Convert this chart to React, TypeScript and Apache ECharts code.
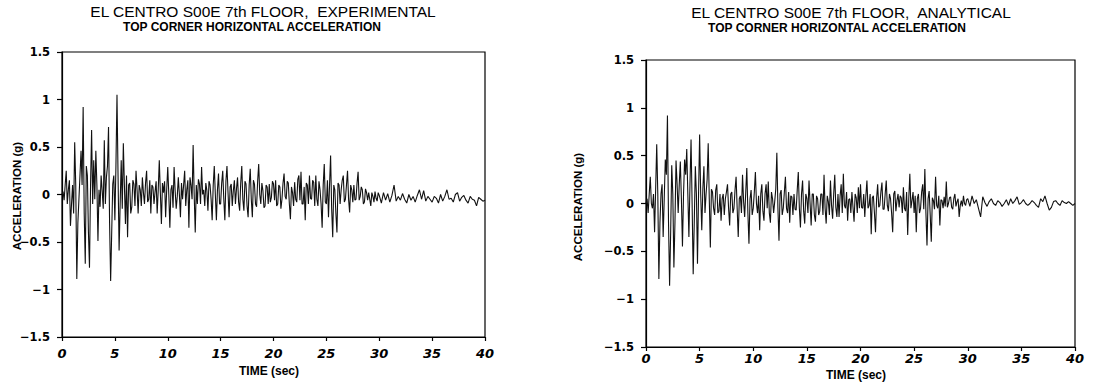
import React, { useEffect, useRef } from "react";
import * as echarts from "echarts";

// the records are digitised at 0.1 s up to 30 s, then at 0.2 s up to 40 s
const STEP_A = 0.1; // s, for t = 0 .. 29.9
const START_B = 30; // s
const STEP_B = 0.2; // s, for t = 30 .. 40

// EL CENTRO S00E 7th floor, experimental, top corner horizontal acceleration (g)
const expAccelA: number[] = [
  0.0, 0.03, -0.06, 0.1, 0.25, -0.1, 0.05, 0.15, -0.33, -0.1,
  0.1, -0.2, 0.55, 0.1, -0.89, -0.3, -0.05, 0.2, 0.46, 0.1,
  0.92, -0.2, -0.73, 0.3, 0.2, -0.4, -0.77, 0.1, 0.68, -0.1,
  0.36, -0.05, 0.46, 0.1, -0.49, 0.05, -0.13, 0.2, 0.04, -0.15,
  0.57, -0.1, 0.18, 0.3, 0.71, -0.3, -0.91, -0.4, 0.11, 0.2,
  -0.27, 0.3, 1.05, 0.2, -0.59, -0.1, 0.36, -0.15, 0.54, 0.1,
  -0.31, 0.2, -0.45, 0.1, 0.12, -0.2, -0.13, 0.15, 0.11, -0.12,
  0.25, 0.05, -0.2, 0.1, 0.05, -0.12, 0.18, 0.02, -0.1, 0.12,
  0.25, -0.08, -0.05, 0.15, -0.2, 0.1, 0.08, -0.1, 0.03, 0.14,
  -0.2, 0.05, 0.36, 0.02, -0.31, 0.12, 0.02, 0.14, -0.24, 0.05,
  0.29, 0.0, -0.35, 0.05, 0.1, -0.14, 0.29, 0.04, -0.15, -0.02,
  0.18, 0.0, -0.24, 0.12, -0.05, 0.1, 0.25, -0.12, 0.05, 0.15,
  -0.35, 0.18, 0.1, -0.05, 0.52, 0.0, -0.4, 0.1, -0.1, 0.16,
  0.11, -0.1, 0.29, 0.0, 0.05, -0.12, 0.12, 0.04, -0.17, 0.14,
  0.1, -0.05, -0.27, 0.1, 0.3, 0.0, -0.27, 0.05, 0.22, -0.1,
  -0.1, 0.12, 0.25, -0.05, -0.27, 0.14, 0.3, 0.02, -0.24, 0.08,
  0.11, -0.12, 0.04, 0.15, -0.1, 0.06, 0.18, -0.08, -0.17, 0.12,
  0.3, -0.05, -0.17, 0.14, 0.11, -0.12, -0.24, 0.1, 0.27, -0.05,
  -0.24, 0.15, 0.11, -0.1, -0.13, 0.14, 0.32, 0.0, -0.1, 0.12,
  0.04, -0.14, -0.12, 0.1, 0.08, -0.1, 0.11, -0.08, -0.03, 0.14,
  0.11, -0.06, 0.15, -0.12, -0.1, 0.1, 0.08, -0.15, -0.05, 0.12,
  0.22, -0.02, -0.05, 0.14, 0.12, -0.1, -0.26, 0.08, 0.02, -0.12,
  0.13, -0.05, -0.08, 0.16, 0.2, -0.06, 0.24, -0.1, -0.1, 0.08,
  -0.27, 0.12, 0.1, -0.1, 0.2, -0.04, -0.05, 0.15, 0.13, -0.12,
  0.2, -0.05, -0.12, 0.14, 0.05, -0.1, -0.35, 0.1, 0.32, -0.08,
  -0.1, 0.15, -0.24, 0.1, 0.41, -0.15, -0.45, 0.1, 0.05, -0.2,
  -0.4, 0.12, 0.1, -0.1, 0.05, 0.15, 0.2, -0.08, -0.05, 0.1,
  0.25, -0.05, -0.19, 0.1, 0.05, -0.08, 0.1, -0.06, -0.05, 0.12,
  0.24, -0.06, -0.02, 0.08, 0.05, -0.1, -0.08, 0.06, 0.02, -0.06,
  0.02, -0.05, -0.12, 0.02, -0.02, -0.08, 0.03, -0.04, -0.07, 0.02,
];
const expAccelB: number[] = [
  -0.01, -0.09, 0.02, -0.06, 0.01,
  -0.08, -0.01, 0.1, -0.07, -0.02,
  -0.06, 0.01, -0.05, -0.09, 0.0,
  -0.06, -0.02, -0.08, -0.01, 0.05,
  -0.05, 0.04, -0.07, -0.02, -0.05,
  -0.08, -0.02, -0.04, -0.09, 0.0,
  -0.07, -0.02, 0.05, -0.05, -0.04,
  -0.08, 0.0, 0.02, -0.07, -0.03,
  -0.01, -0.06, -0.09, -0.02, -0.05,
  -0.06, -0.12, -0.03, -0.05, -0.07,
  -0.06,
];

// EL CENTRO S00E 7th floor, analytical, top corner horizontal acceleration (g)
const anaAccelA: number[] = [
  0.0, 0.05, -0.1, 0.1, 0.28, 0.0, -0.05, 0.1, -0.3, 0.15,
  0.62, 0.1, -0.79, -0.2, 0.1, 0.2, -0.35, 0.05, 0.46, 0.3,
  0.92, -0.2, -0.86, -0.3, 0.4, 0.1, -0.67, -0.2, 0.45, 0.2,
  -0.1, 0.2, 0.44, 0.05, -0.45, 0.1, 0.46, 0.3, 0.57, 0.1,
  -0.35, 0.2, 0.67, 0.0, -0.74, -0.2, 0.39, 0.1, -0.63, 0.1,
  0.72, 0.1, -0.28, 0.15, 0.39, -0.1, 0.1, 0.25, 0.63, 0.05,
  -0.46, 0.15, 0.12, -0.05, -0.12, 0.14, 0.2, -0.1, -0.08, 0.1,
  -0.18, 0.05, 0.1, -0.12, 0.05, 0.12, 0.2, -0.05, -0.23, 0.1,
  0.12, -0.1, -0.05, 0.14, 0.28, -0.05, -0.35, 0.05, 0.08, -0.1,
  0.3, 0.02, -0.14, 0.12, 0.37, -0.1, -0.42, 0.05, 0.14, -0.12,
  -0.05, 0.12, 0.33, 0.0, -0.1, 0.08, -0.28, 0.1, 0.2, -0.08,
  -0.18, 0.1, 0.2, -0.05, 0.23, -0.1, -0.2, 0.12, 0.05, -0.1,
  0.02, 0.15, 0.53, -0.05, -0.39, 0.1, 0.14, -0.12, -0.05, 0.12,
  0.28, -0.05, -0.1, 0.12, -0.2, 0.08, 0.07, -0.12, 0.1, -0.06,
  -0.07, 0.14, 0.33, -0.05, -0.25, 0.1, 0.24, -0.08, -0.21, 0.1,
  0.05, -0.1, 0.24, 0.0, -0.23, 0.1, 0.1, -0.12, -0.19, 0.08,
  0.05, -0.12, -0.08, 0.1, 0.1, -0.12, 0.3, -0.05, -0.21, 0.08,
  0.02, -0.12, 0.24, -0.02, -0.16, 0.1, 0.3, -0.04, -0.14, 0.1,
  -0.14, 0.08, 0.2, -0.1, 0.31, -0.02, -0.05, 0.12, -0.18, 0.04,
  0.05, -0.1, 0.12, -0.04, -0.19, 0.1, 0.06, -0.1, 0.17, -0.05,
  0.2, -0.04, -0.05, 0.1, -0.14, 0.08, 0.24, -0.05, -0.02, 0.1,
  -0.32, 0.06, 0.08, -0.1, -0.3, 0.05, 0.2, -0.04, -0.02, 0.12,
  0.22, -0.06, -0.06, 0.1, 0.24, -0.02, -0.08, 0.1, 0.05, -0.1,
  -0.3, 0.1, 0.13, -0.08, 0.03, 0.1, -0.04, 0.08, 0.06, -0.1,
  0.17, -0.05, -0.08, 0.12, -0.33, 0.05, 0.31, -0.05, 0.03, 0.12,
  -0.1, 0.08, -0.3, 0.05, 0.1, -0.1, -0.05, 0.12, 0.2, -0.06,
  0.36, -0.1, -0.44, 0.05, 0.13, -0.12, -0.4, 0.06, 0.03, -0.06,
  0.28, -0.02, -0.05, 0.08, -0.23, 0.04, 0.03, -0.05, 0.07, -0.03,
  0.23, -0.04, 0.0, 0.06, 0.07, -0.04, -0.06, 0.05, 0.1, -0.03,
  0.02, 0.05, -0.14, -0.02, 0.03, -0.03, 0.08, 0.0, -0.02, 0.04,
];
const anaAccelB: number[] = [
  0.05, -0.03, 0.08, 0.0, 0.04,
  -0.05, -0.14, 0.07, 0.01, -0.03,
  0.02, 0.05, 0.0, -0.02, 0.03,
  0.01, -0.03, 0.0, 0.04, -0.02,
  0.05, 0.0, 0.03, 0.07, -0.01,
  0.01, 0.04, 0.0, -0.02, 0.0,
  0.03, 0.01, -0.02, -0.04, 0.05,
  0.02, 0.08, 0.0, -0.07, -0.04,
  0.02, 0.03, 0.0, -0.02, 0.03,
  0.01, 0.0, 0.02, 0.0, -0.02,
  0.0,
];

const titleMain = ["EL CENTRO S00E 7th FLOOR,  EXPERIMENTAL", "EL CENTRO S00E 7th FLOOR,  ANALYTICAL"];
const titleSub = "TOP CORNER HORIZONTAL ACCELERATION";
const xName = "TIME (sec)";
const yName = "ACCELERATION (g)";

const TITLE_FONT = "'Liberation Sans', Arial, sans-serif";
const TICK_FONT = "'DejaVu Sans', sans-serif";

const toPairs = (a: number[], b: number[]) => [
  ...a.map((v, i) => [i * STEP_A, v]),
  ...b.map((v, i) => [START_B + i * STEP_B, v]),
];

export default function App() {
  const ref = useRef<HTMLDivElement>(null);

  useEffect(() => {
    if (!ref.current) return;
    const chart = echarts.init(ref.current, null, { renderer: "svg" });

    const grids = [
      { left: 62, top: 52, width: 423, height: 285 },
      { left: 646, top: 60, width: 429, height: 287 },
    ];
    const xLabelMargin = [10, 5];

    const axisLine = { show: true, onZero: false, lineStyle: { color: "#000", width: 1.2 } };
    const tickStyle = { color: "#000", width: 1.2 };

    const xAxes = grids.map((_, i) => ({
      type: "value",
      gridIndex: i,
      min: 0,
      max: 40,
      interval: 5,
      axisLine,
      axisTick: { show: true, inside: false, length: 4, lineStyle: tickStyle },
      splitLine: { show: false },
      axisLabel: {
        color: "#000",
        fontFamily: TICK_FONT,
        fontWeight: "bold",
        fontStyle: "italic",
        fontSize: 13,
        margin: xLabelMargin[i],
      },
    }));

    const yAxes = grids.map((_, i) => ({
      type: "value",
      gridIndex: i,
      min: -1.5,
      max: 1.5,
      interval: 0.5,
      axisLine,
      axisTick: { show: true, inside: false, length: 5, lineStyle: tickStyle },
      splitLine: { show: false },
      axisLabel: {
        color: "#000",
        fontFamily: TICK_FONT,
        fontWeight: "bold",
        fontSize: 11.5,
        margin: 12,
        formatter: (v: number) => (v < 0 ? "\u2212" + String(Math.abs(v)) : String(v)),
      },
    }));

    const titlePos = [
      { x1: 263, y1: 11, x2: 252, y2: 27 },
      { x1: 851, y1: 12, x2: 837, y2: 28 },
    ];

    const graphic: any[] = [];
    titlePos.forEach((c, i) => {
      graphic.push({
        type: "text",
        x: c.x1,
        y: c.y1,
        style: {
          text: titleMain[i],
          fill: "#000",
          font: `15.5px ${TITLE_FONT}`,
          textAlign: "center",
          textVerticalAlign: "middle",
        },
      });
      graphic.push({
        type: "text",
        x: c.x2,
        y: c.y2,
        style: {
          text: titleSub,
          fill: "#000",
          font: `bold 12px ${TITLE_FONT}`,
          textAlign: "center",
          textVerticalAlign: "middle",
        },
      });
    });
    [
      { x: 269, y: 371 },
      { x: 856, y: 375 },
    ].forEach((p) =>
      graphic.push({
        type: "text",
        x: p.x,
        y: p.y,
        style: {
          text: xName,
          fill: "#000",
          font: `bold 12px ${TITLE_FONT}`,
          textAlign: "center",
          textVerticalAlign: "middle",
        },
      })
    );
    [
      { x: 17, y: 196 },
      { x: 578, y: 207 },
    ].forEach((p) =>
      graphic.push({
        type: "text",
        x: p.x,
        y: p.y,
        rotation: Math.PI / 2,
        style: {
          text: yName,
          fill: "#000",
          font: `bold 11.5px ${TITLE_FONT}`,
          textAlign: "center",
          textVerticalAlign: "middle",
        },
      })
    );

    chart.setOption({
      animation: false,
      backgroundColor: "#fff",
      grid: grids.map((g) => ({ ...g, show: true, borderColor: "#000", borderWidth: 1.2, backgroundColor: "transparent" })),
      xAxis: xAxes,
      yAxis: yAxes,
      series: [
        {
          type: "line",
          xAxisIndex: 0,
          yAxisIndex: 0,
          data: toPairs(expAccelA, expAccelB),
          showSymbol: false,
          lineStyle: { color: "#111", width: 1.1 },
        },
        {
          type: "line",
          xAxisIndex: 1,
          yAxisIndex: 1,
          data: toPairs(anaAccelA, anaAccelB),
          showSymbol: false,
          lineStyle: { color: "#111", width: 1.1 },
        },
      ],
      graphic,
    });

    return () => chart.dispose();
  }, []);

  return (
    <div
      ref={ref}
      style={{ position: "fixed", left: 0, top: 0, width: 1111, height: 392, background: "#fff" }}
    />
  );
}
